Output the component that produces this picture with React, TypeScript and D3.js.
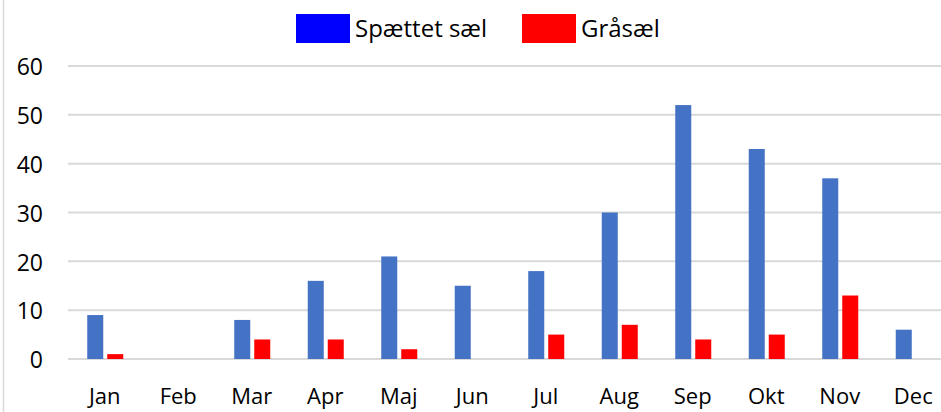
import React, { useEffect, useRef } from 'react';
import * as d3 from 'd3';

const months = ['Jan', 'Feb', 'Mar', 'Apr', 'Maj', 'Jun', 'Jul', 'Aug', 'Sep', 'Okt', 'Nov', 'Dec'];
const spaettetSael = [9, 0, 8, 16, 21, 15, 18, 30, 52, 43, 37, 6];
const graasael = [1, 0, 4, 4, 2, 0, 5, 7, 4, 5, 13, 0];
const yTicks = [0, 10, 20, 30, 40, 50, 60];

const App = () => {
  const ref = useRef<SVGSVGElement>(null);

  useEffect(() => {
    if (!ref.current) return;
    const svg = d3.select(ref.current);
    svg.selectAll('*').remove();

    const width = 941;
    const height = 412;
    const font = 'Open Sans, Liberation Sans, sans-serif';

    const x = d3.scaleBand().domain(months).range([68, 950]).padding(0);
    const y = d3.scaleLinear().domain([0, 60]).range([359, 66]);

    // left border
    svg.append('line')
      .attr('x1', 3.5).attr('x2', 3.5)
      .attr('y1', 0).attr('y2', height)
      .attr('stroke', '#d9d9d9').attr('stroke-width', 1.5);

    // gridlines
    svg.append('g')
      .selectAll('line')
      .data(yTicks)
      .enter()
      .append('line')
      .attr('x1', 68).attr('x2', width)
      .attr('y1', d => y(d)).attr('y2', d => y(d))
      .attr('stroke', '#d9d9d9').attr('stroke-width', 2);

    // y tick labels
    svg.append('g')
      .selectAll('text')
      .data(yTicks)
      .enter()
      .append('text')
      .attr('x', 43)
      .attr('y', d => y(d) + 1)
      .attr('dy', '0.36em')
      .attr('text-anchor', 'end')
      .style('font-family', font)
      .style('font-size', '23px')
      .attr('fill', '#000')
      .text(d => d);

    // x labels
    svg.append('g')
      .selectAll('text')
      .data(months)
      .enter()
      .append('text')
      .attr('x', d => x(d)! + x.bandwidth() / 2)
      .attr('y', 404)
      .attr('text-anchor', 'middle')
      .style('font-family', font)
      .style('font-size', '22px')
      .attr('fill', '#000')
      .text(d => d);

    const barW = 16;
    const gap = 4;
    const groups = svg.append('g')
      .selectAll('g')
      .data(months)
      .enter()
      .append('g')
      .attr('transform', d => `translate(${x(d)! + x.bandwidth() / 2},0)`);

    groups.append('rect')
      .attr('x', -barW - gap / 2 + 0.5)
      .attr('width', barW)
      .attr('y', (d, i) => y(spaettetSael[i]))
      .attr('height', (d, i) => y(0) - y(spaettetSael[i]))
      .attr('fill', '#4472C4');

    groups.append('rect')
      .attr('x', gap / 2 + 0.5)
      .attr('width', barW)
      .attr('y', (d, i) => y(graasael[i]))
      .attr('height', (d, i) => y(0) - y(graasael[i]))
      .attr('fill', '#FF0000');

    // legend
    const legend = [
      { label: 'Spættet sæl', color: '#0000FF', x: 296 },
      { label: 'Gråsæl', color: '#FF0000', x: 522 },
    ];
    const lg = svg.append('g')
      .selectAll('g')
      .data(legend)
      .enter()
      .append('g')
      .attr('transform', d => `translate(${d.x},14)`);
    lg.append('rect').attr('width', 54).attr('height', 29).attr('fill', d => d.color);
    lg.append('text')
      .attr('x', 59)
      .attr('y', 14)
      .attr('dy', '0.36em')
      .style('font-family', font)
      .style('font-size', '24px')
      .attr('fill', '#000')
      .text(d => d.label);
  }, []);

  return (
    <div style={{ position: 'absolute', left: 0, top: 0 }}>
      <svg ref={ref} width={941} height={412} style={{ display: 'block', background: '#fff' }} />
    </div>
  );
};

export default App;
